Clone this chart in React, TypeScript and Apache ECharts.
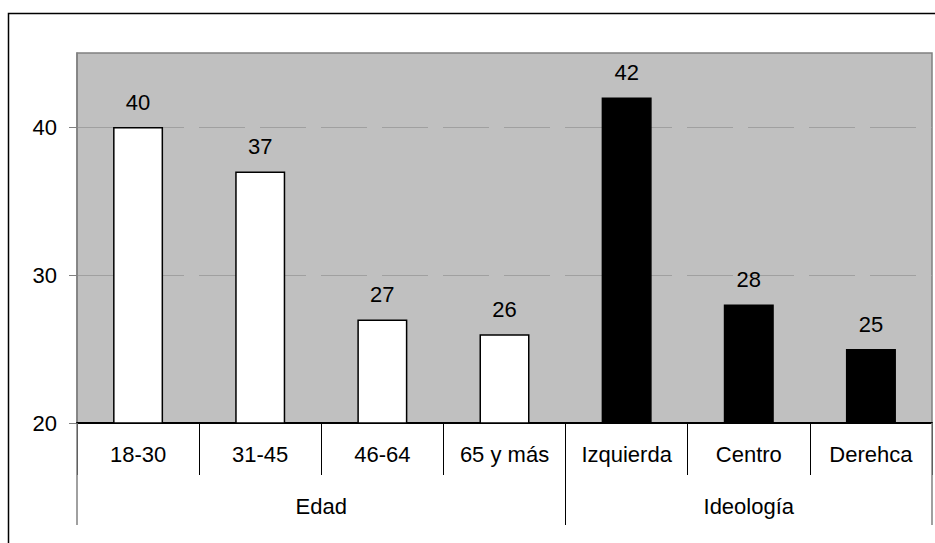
import React, { useEffect, useRef } from "react";
import * as echarts from "echarts";

const categories = ["18-30", "31-45", "46-64", "65 y más", "Izquierda", "Centro", "Derehca"];
const values = [40, 37, 27, 26, 42, 28, 25];
const groups = ["Edad", "Ideología"];
const groupSpans = [4, 3];
const yTicks = [20, 30, 40];

const FONT = "'Liberation Sans', Arial, sans-serif";

export default function App() {
  const ref = useRef<HTMLDivElement>(null);
  useEffect(() => {
    if (!ref.current) return;
    const chart = echarts.init(ref.current, undefined, { renderer: "svg" });

    const n = categories.length;
    const halfData: string[] = new Array(2 * n + 1).fill("");
    const boundaryIdx: number[] = [0];
    let start = 0;
    groups.forEach((g, i) => {
      const span = groupSpans[i];
      halfData[start * 2 + span] = g;
      start += span;
      boundaryIdx.push(start * 2);
    });
    const outer = [0, 2 * n];
    const inner = boundaryIdx.filter((b) => b !== 0 && b !== 2 * n);

    const option: any = {
      animation: false,
      textStyle: { fontFamily: FONT },
      graphic: [
        {
          type: "rect",
          shape: { x: 8.5, y: 13.5, width: 1200, height: 1200 },
          style: { fill: "none", stroke: "#000", lineWidth: 1.5 },
          silent: true,
        },
      ],
      grid: {
        left: 77,
        right: 3,
        top: 53,
        bottom: 120,
        show: true,
        backgroundColor: "#c0c0c0",
        borderColor: "#808080",
        borderWidth: 1.5,
      },
      xAxis: [
        {
          type: "category",
          data: categories,
          position: "bottom",
          axisLine: { show: true, lineStyle: { color: "#000", width: 2 } },
          axisTick: { show: true, length: 52, lineStyle: { color: "#000", width: 1 } },
          axisLabel: { interval: 0, color: "#000", fontSize: 22, margin: 20, fontFamily: FONT },
          splitLine: { show: false },
          z: 2,
        },
        {
          type: "category",
          data: halfData,
          boundaryGap: false,
          position: "bottom",
          axisLine: { show: false },
          axisTick: {
            show: true,
            length: 102,
            interval: (i: number) => inner.includes(i),
            lineStyle: { color: "#000", width: 1 },
          },
          axisLabel: { interval: 0, color: "#000", fontSize: 22, margin: 72, fontFamily: FONT },
          splitLine: { show: false },
          z: 3,
        },
        {
          type: "category",
          data: halfData.map(() => ""),
          boundaryGap: false,
          position: "bottom",
          axisLine: { show: false },
          axisTick: {
            show: true,
            length: 102,
            interval: (i: number) => outer.includes(i),
            lineStyle: { color: "#808080", width: 1.5 },
          },
          axisLabel: { show: false },
          splitLine: { show: false },
          z: 4,
        },
      ],
      yAxis: {
        type: "value",
        min: 20,
        max: 45,
        interval: 10,
        axisLine: { show: true, lineStyle: { color: "#808080", width: 1.5 } },
        axisTick: {
          show: true,
          length: 8,
          customValues: yTicks,
          lineStyle: { color: "#808080", width: 1 },
        },
        axisLabel: {
          customValues: yTicks,
          color: "#000",
          fontSize: 22,
          margin: 20,
          fontFamily: FONT,
        },
        splitLine: {
          show: true,
          lineStyle: { color: "#a0a0a0", width: 1, type: [46, 15] },
        },
      },
      series: [
        {
          type: "bar",
          xAxisIndex: 0,
          barWidth: 50,
          data: values.map((v, i) => ({
            value: v,
            itemStyle:
              i < groupSpans[0]
                ? { color: "#ffffff", borderColor: "#000", borderWidth: 1.5 }
                : { color: "#000000", borderColor: "#000", borderWidth: 1.5 },
          })),
          label: {
            show: true,
            position: "top",
            distance: 14,
            color: "#000",
            fontSize: 22,
            fontFamily: FONT,
          },
          z: 5,
        },
      ],
    };
    chart.setOption(option);
    return () => chart.dispose();
  }, []);
  return (
    <div
      ref={ref}
      style={{ position: "absolute", left: 0, top: 0, width: 935, height: 543 }}
    />
  );
}
